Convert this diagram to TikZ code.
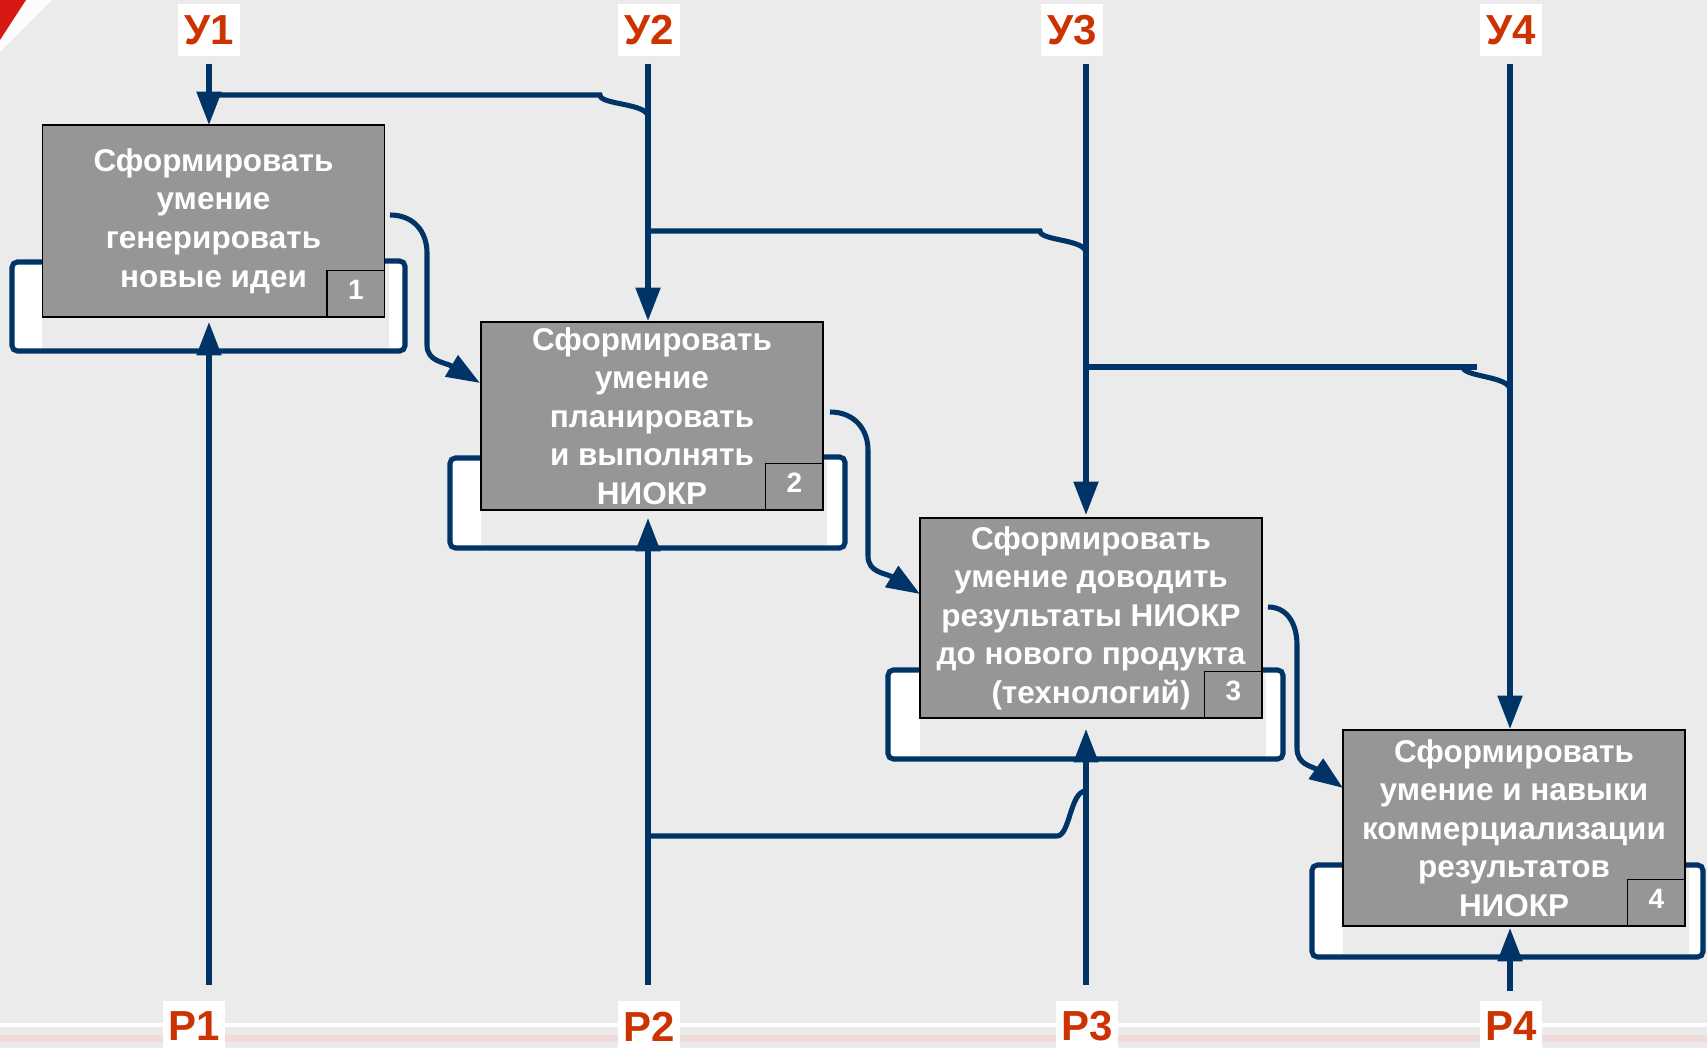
\documentclass[tikz,border=0pt]{standalone}
\usepackage{fontspec}
\setmainfont{Liberation Sans}
\usetikzlibrary{arrows.meta,calc}
\definecolor{bgc}{RGB}{235,235,235}
\definecolor{lnc}{RGB}{0,51,102}
\definecolor{lbc}{RGB}{204,51,0}
\definecolor{boxc}{RGB}{150,150,150}
\definecolor{pinkc}{RGB}{240,218,218}
\definecolor{decred}{RGB}{215,25,20}
\begin{document}
\begin{tikzpicture}[x=0.75pt,y=-0.75pt,
  conn/.style={draw=lnc,line width=3.8pt},
  arr/.style={conn,-{Triangle[length=25pt,width=18pt]}},
  proc/.style={draw=black,line width=1.1pt,fill=boxc,inner sep=0pt,align=center,
    text=white,minimum width=256.5pt,font=\fontsize{23.6pt}{28.9pt}\selectfont\bfseries},
  numbox/.style={draw=black,line width=1.1pt,fill=boxc,inner sep=0pt,
    minimum width=43pt,minimum height=35pt,anchor=south east},
  numtext/.style={text=white,inner sep=0pt,font=\fontsize{21pt}{21pt}\selectfont\bfseries},
  lab/.style={fill=white,text=lbc,inner sep=0pt,minimum width=47pt,minimum height=39pt,
    font=\fontsize{31.5pt}{31.5pt}\selectfont\bfseries},
  loopline/.style={draw=lnc,line width=3.8pt,rounded corners=4pt}]
% background
\useasboundingbox (0,0) rectangle (1707,1048);
\fill[bgc] (0,0) rectangle (1707,1048);
% corner decoration
\fill[white!85!bgc] (0,0) -- (52,0) -- (0,52) -- cycle;
\fill[decred] (0,0) -- (26,0) -- (0,40) -- cycle;
% bottom stripes
\fill[white] (0,1023) rectangle (1707,1027);
\fill[pinkc] (0,1035) rectangle (1707,1042);

% loops (white strips + outlines)
\fill[white] (12,262) rectangle (42,351);
\fill[white] (389,261) rectangle (405,351);
\draw[loopline] (42,262) -- (12,262) -- (12,351) -- (405,351) -- (405,261) -- (385,261);
\fill[white] (450,458) rectangle (481,548);
\fill[white] (827,457) rectangle (845,548);
\draw[loopline] (481,458) -- (450,458) -- (450,548) -- (845,548) -- (845,457) -- (823,457);
\fill[white] (888,670) rectangle (920,759);
\fill[white] (1266,670) rectangle (1283,759);
\draw[loopline] (920,670) -- (888,670) -- (888,759) -- (1283,759) -- (1283,670) -- (1262,670);
\fill[white] (1312,865) rectangle (1343,957);
\fill[white] (1689,865) rectangle (1703,957);
\draw[loopline] (1343,865) -- (1312,865) -- (1312,957) -- (1703,957) -- (1703,865) -- (1685,865);

% boxes
\node[proc,minimum height=144pt] (b1) at (213.5,221)
  {Сформировать\\умение\\генерировать\\новые идеи};
\node[proc,minimum height=141pt] (b2) at (652,416)
  {Сформировать\\умение\\планировать\\и выполнять\\НИОКР};
\node[proc,minimum height=150pt] (b3) at (1091,618)
  {Сформировать\\умение доводить\\результаты НИОКР\\до нового продукта\\(технологий)};
\node[proc,minimum height=147pt] (b4) at (1514,828)
  {Сформировать\\умение и навыки\\коммерциализации\\результатов\\НИОКР};
% number boxes
\node[numbox] (n1) at (b1.south east) {};
\node[numbox] (n2) at (b2.south east) {};
\node[numbox] (n3) at (b3.south east) {};
\node[numbox] (n4) at (b4.south east) {};
\node[numtext] (t1) at ($(n1.center)+(0,-4)$) {1};
\node[numtext] (t2) at ($(n2.center)+(0,-4)$) {2};
\node[numtext] (t3) at ($(n3.center)+(0,-4)$) {3};
\node[numtext] (t4) at ($(n4.center)+(0,-4)$) {4};

% labels
\node[lab] (u1) at (209,30) {У1};
\node[lab] (u2) at (649,30) {У2};
\node[lab] (u3) at (1072,30) {У3};
\node[lab] (u4) at (1511,30) {У4};
\node[lab,minimum height=38pt] (r1) at (194,1026.5) {Р1};
\node[lab,minimum height=38pt] (r2) at (649,1026.5) {Р2};
\node[lab,minimum height=38pt] (r3) at (1087,1026.5) {Р3};
\node[lab,minimum height=38pt] (r4) at (1511,1026.5) {Р4};

% connector coordinates
\coordinate (u1s) at (209,64);
\coordinate (u2s) at (648,64);
\coordinate (u3s) at (1086,64);
\coordinate (u4s) at (1510,64);
\coordinate (u1e) at (209,125);
\coordinate (u2e) at (648,321);
\coordinate (u3e) at (1086,515);
\coordinate (u4e) at (1510,729);
\coordinate (r1s) at (209,985);
\coordinate (r2s) at (648,985);
\coordinate (r3s) at (1086,985);
\coordinate (r4s) at (1510,991);
\coordinate (r1e) at (209,322);
\coordinate (r2e) at (648,518);
\coordinate (r3e) at (1086,729);
\coordinate (r4e) at (1510,928);

% controls (top) and mechanisms (bottom)
\draw[arr] (u1s) -- (u1e);
\draw[arr] (u2s) -- (u2e);
\draw[arr] (u3s) -- (u3e);
\draw[arr] (u4s) -- (u4e);
\draw[arr] (r1s) -- (r1e);
\draw[arr] (r2s) -- (r2e);
\draw[arr] (r3s) -- (r3e);
\draw[arr] (r4s) -- (r4e);

% branches
\coordinate (a1) at (648,117); \coordinate (a2) at (600,95); \coordinate (a3) at (209,95);
\draw[conn] (a1) .. controls (648,103) and (600,105) .. (a2) -- (a3);
\coordinate (c1) at (1086,253); \coordinate (c2) at (1040,231); \coordinate (c3) at (648,231);
\draw[conn] (c1) .. controls (1086,239) and (1040,241) .. (c2) -- (c3);
\coordinate (e1) at (1510,390); \coordinate (e2) at (1463,367); \coordinate (e3) at (1086,367);
\coordinate (e4) at (1477,367);
\draw[conn] (e1) .. controls (1510,376) and (1463,377) .. (e2);
\draw[conn] (e4) -- (e3);
\coordinate (d1) at (1086,791); \coordinate (d2) at (1057,836); \coordinate (d3) at (648,836);
\draw[conn] (d1) .. controls (1070,791) and (1070,836) .. (d2) -- (d3);

% outputs
\coordinate (o1s) at (390,215); \coordinate (o1a) at (427,253); \coordinate (o1b) at (427,345);
\coordinate (o1e) at (480,383);
\draw[arr] (o1s) .. controls (414,215) and (427,232) .. (o1a) -- (o1b)
  .. controls (427,362) and (445,362) .. (o1e);
\coordinate (o2s) at (830,412); \coordinate (o2a) at (868,450); \coordinate (o2b) at (868,556);
\coordinate (o2e) at (920,594);
\draw[arr] (o2s) .. controls (855,412) and (868,430) .. (o2a) -- (o2b)
  .. controls (868,573) and (886,573) .. (o2e);
\coordinate (o3s) at (1268,607); \coordinate (o3a) at (1297,645); \coordinate (o3b) at (1297,748);
\coordinate (o3e) at (1343,788);
\draw[arr] (o3s) .. controls (1288,607) and (1297,625) .. (o3a) -- (o3b)
  .. controls (1297,765) and (1312,766) .. (o3e);
\end{tikzpicture}
\end{document}
